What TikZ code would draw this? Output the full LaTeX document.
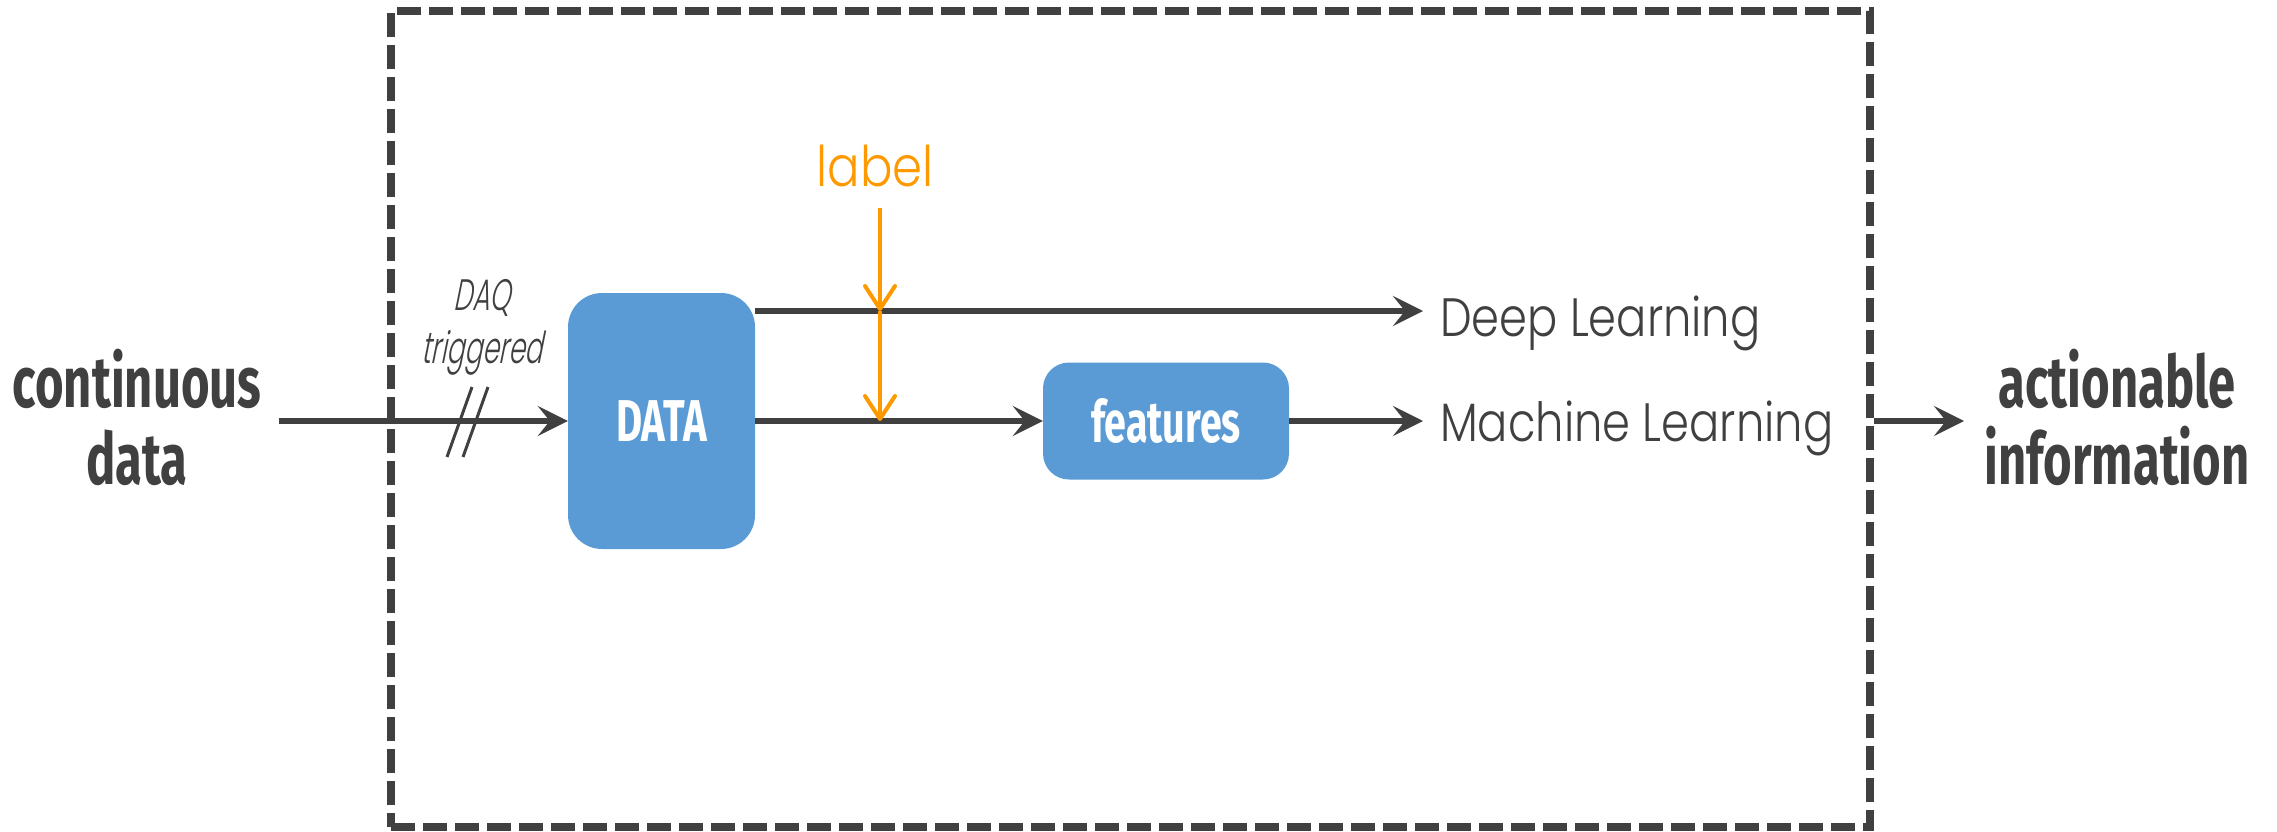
\documentclass[tikz,border=0pt]{standalone}
\usepackage{fontspec}
\usetikzlibrary{arrows.meta}

% condensed heavy face for headings and box captions
\newfontfamily\headfont{Fira Sans}[FakeStretch=0.68]
% thin geometric face for the learning labels
\newfontfamily\thinfont{Poppins Light}[FakeStretch=0.83]
\newfontfamily\tagfont{Poppins Light}[FakeStretch=0.86]
\newfontfamily\thinitfont{Poppins Light}[FakeStretch=0.6,FakeSlant=0.2]

\definecolor{ink}{HTML}{404040}
\definecolor{boxblue}{HTML}{5B9BD5}
\definecolor{tagorange}{HTML}{FF9900}

\tikzset{
  flow/.style={draw=ink, line width=6pt,
    -{Stealth[length=30pt,width=30pt,inset=12pt]}},
  tagarrow/.style={draw=tagorange, line width=4pt,
    -{Straight Barb[length=23pt,width=30pt,round]}},
  blk/.style={fill=boxblue, draw=none, text=white, inner sep=0pt},
  bigtxt/.style={text=ink, align=center, inner sep=0pt,
    font=\headfont\bfseries\fontsize{72}{77}\selectfont},
  thintxt/.style={text=ink, inner ysep=0pt, inner xsep=17pt,
    font=\thinfont\fontsize{54}{60}\selectfont},
  daqtxt/.style={text=ink, align=center, inner sep=0pt,
    font=\thinitfont\fontsize{44}{53}\selectfont},
}

\begin{document}
\begin{tikzpicture}[x=1pt,y=-1pt]
\useasboundingbox (0,0) rectangle (2277,832);

% system boundary
\node[draw=ink, line width=8pt, dash pattern=on 24pt off 8pt,
      minimum width=1479pt, minimum height=816pt, inner sep=0pt]
      (frame) at (1130.5,419) {};

% processing blocks
\node[blk, minimum width=187pt, minimum height=256pt, rounded corners=34pt,
      font=\headfont\bfseries\fontsize{59}{64}\selectfont]
      (data) at (661.5,421) {DATA};
\node[blk, minimum width=246pt, minimum height=117pt, rounded corners=26pt,
      font=\headfont\bfseries\fontsize{58}{62}\selectfont]
      (feat) at (1166,421) {features};

% outer texts (base = baseline of the last line)
\node[bigtxt, anchor=base] (src) at (137,484) {continuous\\data};
\node[bigtxt, anchor=base] (dst) at (2117,484) {actionable\\information};
\node[daqtxt, anchor=base] (daq) at (482,363) {DAQ\\triggered};

% learning targets
\node[thintxt, anchor=base west] (dl) at (1423,336) {Deep Learning};
\node[thintxt, anchor=base west] (ml) at (1423,441) {Machine Learning};

% label source
\node[text=tagorange, inner sep=0pt, font=\tagfont\fontsize{56}{60}\selectfont,
      anchor=base] (tag) at (875,186) {label};

% input stream with break marks
\coordinate (intail) at (279,421);
\draw[flow] (intail) -- (data.west);
\coordinate (brk) at (467.5,422);
\draw[ink, line width=3pt] ([shift={(4.5,-35)}]brk) -- ([shift={(-20.5,35)}]brk);
\draw[ink, line width=3pt] ([shift={(20.5,-35)}]brk) -- ([shift={(-4.5,35)}]brk);

% deep learning path
\coordinate (dlstart) at ([yshift=110pt]data.east);
\draw[flow] (dlstart) -- (dlstart -| dl.west);

% machine learning path
\draw[flow] (data.east) -- (feat.west);
\draw[flow] (feat.east) -- (feat.east -| ml.west);

% labels injected into both paths
\coordinate (tagdrop) at (880,208);
\draw[tagarrow] (tagdrop) -- (tagdrop |- dlstart);
\draw[tagarrow] (tagdrop |- dlstart) -- (tagdrop |- data.east);

% output
\coordinate (outtip) at (1964,421);
\draw[flow] (frame.east |- outtip) -- (outtip);
\end{tikzpicture}
\end{document}
